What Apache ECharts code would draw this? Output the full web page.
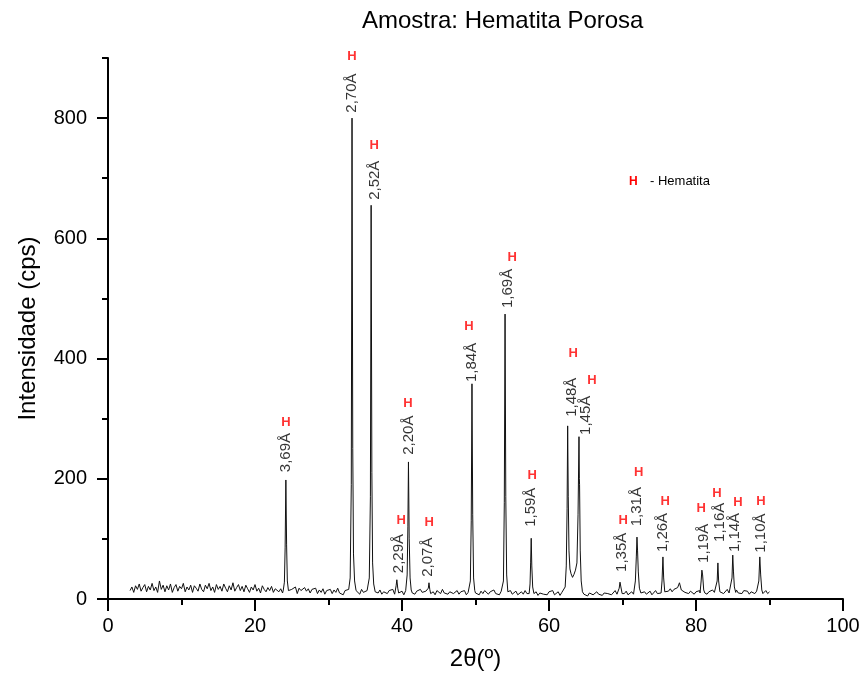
<!DOCTYPE html>
<html>
<head>
<meta charset="utf-8">
<title>Amostra: Hematita Porosa</title>
<script src="https://cdn.jsdelivr.net/npm/echarts@6/dist/echarts.min.js"></script>
<style>
  html, body { margin: 0; padding: 0; background: #fff; }
  #main { width: 864px; height: 681px; }
</style>
</head>
<body>
<div id="main"></div>
<script>
// fundo medido de 3 a 90 graus, passo 0.25
var bgStart = 3, bgStep = 0.25;
var background = [
  14, 20, 11, 22, 16, 25, 13, 19, 24, 12, 21, 15, 26, 14, 20, 11, 30, 16, 23, 12,
  22, 15, 25, 11, 19, 24, 13, 21, 17, 26, 12, 20, 15, 23, 11, 22, 18, 13, 25, 16,
  12, 23, 17, 26, 14, 20, 11, 24, 16, 21, 13, 25, 18, 12, 22, 15, 27, 13, 19, 24,
  14, 21, 12, 23, 17, 11, 20, 15, 24, 13, 18, 10, 22, 16, 12, 19, 14, 21, 11, 17,
  20, 12, 17, 10, 19, 14, 21, 11, 16, 13, 20, 9, 18, 14, 11, 19, 13, 17, 10, 16,
  13, 18, 9, 15, 11, 17, 8, 14, 12, 16, 9, 15, 11, 18, 10, 13, 7, 14, 11, 16,
  12, 9, 15, 10, 13, 8, 16, 11, 9, 14, 10, 12, 17, 9, 13, 10, 15, 8, 12, 14,
  9, 14, 11, 16, 8, 12, 15, 10, 13, 7, 14, 11, 9, 15, 12, 8, 13, 10, 16, 11,
  8, 13, 10, 15, 9, 12, 7, 14, 11, 9, 16, 10, 13, 8, 12, 15, 9, 11, 14, 8,
  12, 9, 14, 7, 11, 13, 8, 15, 10, 12, 7, 13, 9, 14, 11, 8, 12, 10, 15, 9,
  11, 7, 13, 9, 12, 6, 10, 14, 8, 11, 13, 7, 10, 12, 8, 14, 9, 11, 7, 12,
  8, 12, 6, 10, 13, 8, 11, 7, 12, 9, 14, 7, 10, 12, 6, 11, 9, 13, 8, 10,
  7, 11, 9, 13, 6, 10, 12, 8, 11, 5, 10, 13, 7, 9, 12, 8, 11, 6, 10, 13,
  9, 12, 7, 10, 14, 8, 11, 6, 12, 9, 13, 7, 10, 12, 8, 11, 9, 14, 7, 10,
  12, 8, 11, 13, 7, 10, 14, 9, 12, 8, 11, 15, 10, 13, 17, 12, 16, 14, 19, 27,
  15, 18, 11, 14, 9, 13, 11, 8, 12, 10, 14, 9, 11, 13, 8, 12, 10, 15, 11, 9,
  13, 10, 15, 9, 12, 16, 10, 13, 8, 12, 15, 10, 13, 9, 14, 11, 13, 8, 12, 10,
  9, 13, 10, 12, 8, 11, 14, 9, 12
];

// perfis dos picos [2theta, cps]
var peaks = [
  [[23.85, 15], [24.0, 28], [24.1, 85], [24.2, 198], [24.3, 90], [24.4, 30], [24.55, 14]],
  [[32.8, 13], [32.95, 35], [33.1, 190], [33.2, 800], [33.3, 250], [33.4, 75], [33.55, 30], [33.75, 14]],
  [[35.4, 12], [35.55, 35], [35.7, 170], [35.8, 655], [35.9, 210], [36.0, 60], [36.15, 25], [36.35, 12]],
  [[39.1, 11], [39.2, 22], [39.3, 32], [39.42, 18], [39.55, 10]],
  [[40.55, 12], [40.7, 40], [40.8, 120], [40.88, 228], [40.98, 100], [41.1, 35], [41.25, 15], [41.4, 10]],
  [[43.45, 10], [43.58, 18], [43.67, 27], [43.78, 16], [43.9, 9]],
  [[49.15, 11], [49.3, 30], [49.42, 130], [49.52, 358], [49.62, 140], [49.74, 35], [49.9, 14]],
  [[53.65, 10], [53.8, 30], [53.92, 160], [54.02, 474], [54.12, 170], [54.24, 40], [54.4, 12]],
  [[57.3, 9], [57.42, 25], [57.5, 60], [57.58, 101], [57.66, 55], [57.78, 20], [57.95, 9]],
  [[62.0, 10], [62.2, 20], [62.35, 55], [62.46, 150], [62.54, 288], [62.62, 170], [62.72, 80], [62.85, 50],
   [63.0, 42], [63.2, 36], [63.4, 41], [63.6, 48], [63.8, 60], [63.95, 140], [64.08, 270], [64.13, 200],
   [64.16, 190], [64.25, 80], [64.38, 30], [64.55, 12]],
  [[69.4, 9], [69.55, 18], [69.66, 28], [69.78, 20], [69.95, 9]],
  [[71.6, 10], [71.75, 30], [71.88, 70], [71.97, 103], [72.05, 80], [72.15, 45], [72.3, 18], [72.5, 10]],
  [[75.25, 10], [75.38, 30], [75.5, 70], [75.6, 35], [75.75, 12]],
  [[80.55, 10], [80.7, 30], [80.8, 48], [80.9, 40], [81.05, 15], [81.2, 10]],
  [[82.75, 11], [82.88, 30], [82.98, 60], [83.08, 30], [83.25, 12]],
  [[84.75, 12], [84.9, 35], [85.0, 73], [85.1, 45], [85.22, 20], [85.4, 11]],
  [[88.4, 10], [88.55, 30], [88.68, 70], [88.8, 40], [88.95, 15], [89.1, 9]]
];

// distancias interplanares e onde ficam os textos
var dLabels = ['3,69Å', '2,70Å', '2,52Å', '2,29Å', '2,20Å', '2,07Å', '1,84Å', '1,69Å', '1,59Å',
  '1,48Å', '1,45Å', '1,35Å', '1,31Å', '1,26Å', '1,19Å', '1,16Å', '1,14Å', '1,10Å'];
var dLabelAt = [[24.2, 211], [33.2, 809], [36.3, 664], [39.6, 43], [40.95, 240], [43.5, 37], [49.5, 361],
  [54.4, 484], [57.55, 120], [63.1, 303], [65.0, 273], [69.9, 45], [72.0, 121], [75.5, 78],
  [81.1, 60], [83.3, 95], [85.3, 78], [88.8, 77]];
var hAt = [[24.2, 293], [33.2, 903], [36.2, 755], [39.9, 131], [40.8, 326], [43.7, 128], [49.1, 454],
  [55.0, 569], [57.7, 205], [63.3, 408], [65.85, 364], [70.1, 130], [72.2, 210], [75.8, 163],
  [80.7, 151], [82.85, 176], [85.7, 161], [88.85, 163]];

// junta fundo e picos
var pattern = [];
background.forEach(function (v, i) {
  var x = bgStart + i * bgStep;
  var inPeak = peaks.some(function (p) { return x >= p[0][0] && x <= p[p.length - 1][0]; });
  if (!inPeak) pattern.push([x, v]);
});
peaks.forEach(function (p) { pattern = pattern.concat(p); });
pattern.sort(function (a, b) { return a[0] - b[0]; });

var font = 'Liberation Sans, Arial, sans-serif';
var myChart = echarts.init(document.getElementById('main'));

var option = {
  animation: false,
  backgroundColor: '#fff',
  title: {
    text: 'Amostra: Hematita Porosa',
    left: 362,
    top: 9,
    padding: 0,
    textStyle: { fontFamily: font, fontSize: 24, fontWeight: 'normal', color: '#000' }
  },
  grid: { left: 108, right: 21, top: 58, bottom: 82 },
  xAxis: {
    type: 'value',
    min: 0,
    max: 100,
    interval: 20,
    name: '2θ(º)',
    nameLocation: 'middle',
    nameGap: 48,
    nameTextStyle: { fontFamily: font, fontSize: 24, color: '#000' },
    axisLine: { show: true, onZero: false, lineStyle: { color: '#000', width: 2 } },
    axisTick: { show: true, length: 12, lineStyle: { color: '#000', width: 2 } },
    minorTick: { show: true, splitNumber: 2, length: 6, lineStyle: { color: '#000', width: 2 } },
    axisLabel: { fontFamily: font, fontSize: 20, color: '#000', margin: 17 },
    splitLine: { show: false }
  },
  yAxis: [{
    type: 'value',
    min: 0,
    max: 900,
    name: 'Intensidade (cps)',
    nameLocation: 'middle',
    nameGap: 68,
    nameTextStyle: { fontFamily: font, fontSize: 24, color: '#000' },
    axisLine: { show: true, lineStyle: { color: '#000', width: 2 } },
    axisTick: { show: true, length: 11, customValues: [0, 200, 400, 600, 800], lineStyle: { color: '#000', width: 2 } },
    axisLabel: { customValues: [0, 200, 400, 600, 800], fontFamily: font, fontSize: 20, color: '#000', margin: 21 },
    splitLine: { show: false }
  }, {
    type: 'value',
    min: 0,
    max: 900,
    position: 'left',
    axisLine: { show: false },
    axisTick: { show: true, length: 6, customValues: [100, 300, 500, 700, 900], lineStyle: { color: '#000', width: 2 } },
    axisLabel: { show: false },
    splitLine: { show: false }
  }],
  graphic: [
    { type: 'text', left: 629, top: 176, style: { text: 'H', fill: '#ff0000', font: 'bold 12px ' + font } },
    { type: 'text', left: 650, top: 175, style: { text: '- Hematita', fill: '#000', font: '13px ' + font } }
  ],
  series: [{
    name: 'Hematita Porosa',
    type: 'line',
    data: pattern,
    showSymbol: false,
    lineStyle: { color: '#111', width: 1 },
    z: 3
  }, {
    type: 'scatter',
    data: dLabelAt.map(function (p, i) { return [p[0], p[1], dLabels[i]]; }),
    symbolSize: 1,
    clip: false,
    silent: true,
    itemStyle: { color: 'transparent' },
    label: {
      show: true,
      position: 'inside',
      rotate: 90,
      align: 'left',
      verticalAlign: 'middle',
      fontFamily: font,
      fontSize: 15,
      color: '#000',
      formatter: function (p) { return p.value[2]; }
    }
  }, {
    type: 'scatter',
    data: hAt,
    symbolSize: 1,
    clip: false,
    silent: true,
    itemStyle: { color: 'transparent' },
    label: {
      show: true,
      position: 'inside',
      align: 'center',
      verticalAlign: 'middle',
      fontFamily: font,
      fontSize: 13,
      fontWeight: 'bold',
      color: '#ff0000',
      formatter: 'H'
    }
  }]
};

myChart.setOption(option);
</script>
</body>
</html>
